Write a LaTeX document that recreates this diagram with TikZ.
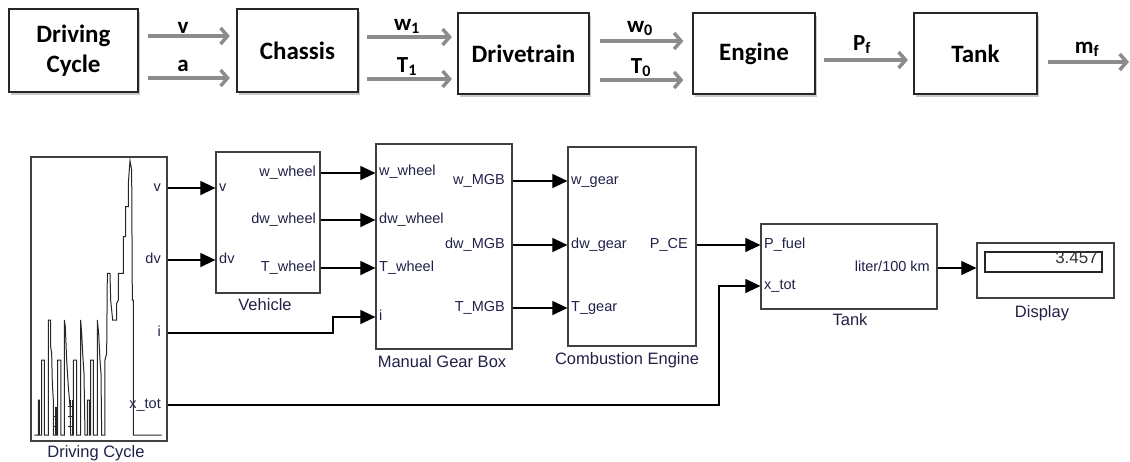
\documentclass[tikz,border=0pt]{standalone}
\usepackage{fontspec}
\setmainfont{Liberation Sans}
\newfontfamily\carl{Carlito}
\usetikzlibrary{arrows.meta,shadows}
\definecolor{slink}{HTML}{202048}
\begin{document}
\begin{tikzpicture}[x=1pt,y=-1pt,
  tbox/.style={draw=black!85, line width=1.2pt, fill=white,
    drop shadow={shadow xshift=1.5pt,shadow yshift=-2.5pt,opacity=0.35,fill=black!60},
    font=\carl\bfseries\fontsize{25}{30}\selectfont, align=center, inner sep=0pt},
  garrow/.style={draw=black!45, line width=3.5pt, -{Straight Barb[length=7pt,width=16pt]}},
  glab/.style={font=\carl\bfseries\fontsize{23}{24}\selectfont, inner sep=0pt, anchor=base},
  sbox/.style={draw=black!75, line width=1.2pt, inner sep=0pt},
  pl/.style={font=\fontsize{14.5}{16}\selectfont, text=slink, inner sep=0pt, text height=10.5pt, text depth=3pt},
  bname/.style={font=\fontsize{16.5}{18}\selectfont, text=slink, inner sep=0pt, anchor=north, text height=12pt, text depth=3.5pt},
  sarrow/.style={draw=black, line width=1.1pt, -{Triangle[length=15pt,width=14pt]}},
  trace/.style={draw=black!85, line width=1pt, line join=miter},
]
\useasboundingbox (0,0) rectangle (1130,461);

% ---------------- top row ----------------
\node[tbox, minimum width=129pt, minimum height=83pt] (tdc) at (73.5,50.5) {Driving\\Cycle};
\node[tbox, minimum width=121pt, minimum height=83pt] (tch) at (297.5,50.5) {Chassis};
\node[tbox, minimum width=131pt, minimum height=81pt] (tdt) at (523.5,53.5) {Drivetrain};
\node[tbox, minimum width=122pt, minimum height=81pt] (ten) at (754,53.5) {Engine};
\node[tbox, minimum width=123pt, minimum height=81pt] (ttk) at (975.5,53.5) {Tank};
\coordinate (mfend) at (1129,62);

\draw[garrow, shorten <=9pt, shorten >=6.5pt] (tdc.east |- 0,36) -- (tch.west |- 0,36);
\draw[garrow, shorten <=9pt, shorten >=6.5pt] (tdc.east |- 0,78) -- (tch.west |- 0,78);
\draw[garrow, shorten <=8.5pt, shorten >=5.5pt] (tch.east |- 0,37) -- (tdt.west |- 0,37);
\draw[garrow, shorten <=8.5pt, shorten >=5.5pt] (tch.east |- 0,79) -- (tdt.west |- 0,79);
\draw[garrow, shorten <=10pt, shorten >=9pt] (tdt.east |- 0,41) -- (ten.west |- 0,41);
\draw[garrow, shorten <=10pt, shorten >=9pt] (tdt.east |- 0,80) -- (ten.west |- 0,80);
\draw[garrow, shorten <=8.5pt, shorten >=5.5pt] (ten.east |- 0,60) -- (ttk.west |- 0,60);
\draw[garrow, shorten <=10.5pt] (ttk.east |- 0,62) -- (mfend);

\node[glab] (lv) at (183,33) {v};
\node[glab] (la) at (183,71) {a};
\node[glab] (lw1) at (407,30) {w\textsubscript{1}};
\node[glab] (lt1) at (407,72) {T\textsubscript{1}};
\node[glab] (lw0) at (640,32) {w\textsubscript{0}};
\node[glab] (lt0) at (641,73) {T\textsubscript{0}};
\node[glab] (lpf) at (862,50) {P\textsubscript{f}};
\node[glab] (lmf) at (1087,53) {m\textsubscript{f}};

% ---------------- bottom (Simulink) ----------------
\node[sbox, minimum width=136pt, minimum height=284pt] (dcb) at (99,299) {};
\node[sbox, minimum width=104pt, minimum height=141pt] (veh) at (268,222.5) {};
\node[sbox, minimum width=136pt, minimum height=205pt] (mgb) at (444,246.5) {};
\node[sbox, minimum width=128pt, minimum height=199pt] (ce) at (632,246.5) {};
\node[sbox, minimum width=176pt, minimum height=85pt] (tank) at (849,266.5) {};
\node[sbox, minimum width=137pt, minimum height=55pt] (disp) at (1045.5,270.5) {};
\node[sbox, draw=black!85, line width=1.1pt, minimum width=117pt, minimum height=20pt] (dispin) at (1043.5,262) {};
\node[pl, anchor=east, text=black!80, font=\fontsize{17}{18}\selectfont] (dval) at (1098,260) {3.457};

% driving cycle trace
\begin{scope}[shift={(0,140)}, scale=1/3]
\draw[trace] (103,885) -- (115,885) -- (115,780) -- (118,780) -- (118,885) -- (125,885)
  -- (125,660) -- (133,660) -- (133,885) -- (145,885) -- (145,540) -- (152,540)
  -- (152,620) -- (155,640) -- (157,730) -- (160,780) -- (160,885) -- (173,885)
  -- (173,660) -- (183,660) -- (183,885) -- (193,885) -- (193,540) -- (196,560)
  -- (200,660) -- (205,740) -- (210,800) -- (212,885) -- (220,885) -- (220,660)
  -- (230,660) -- (230,885) -- (242,885) -- (242,540) -- (245,580) -- (248,640)
  -- (252,700) -- (255,885) -- (262,885) -- (262,780) -- (268,780) -- (268,885)
  -- (272,885) -- (272,660) -- (280,660) -- (280,885) -- (292,885) -- (292,540)
  -- (296,580) -- (300,660) -- (303,700) -- (305,885) -- (315,885) -- (315,660)
  -- (320,640) -- (322,400) -- (330,400) -- (332,480) -- (338,540) -- (350,540)
  -- (350,490) -- (355,480) -- (355,400) -- (370,400) -- (370,290) -- (377,290)
  -- (377,200) -- (385,200) -- (385,130) -- (390,62) -- (395,90) -- (397,480)
  -- (400,480) -- (400,885) -- (485,885);
\draw[trace, line width=0.6pt] (160,830) -- (175,830) (160,860) -- (175,860)
  (205,800) -- (220,800) (205,830) -- (220,830) (205,860) -- (220,860)
  (165,800) -- (165,885) (170,800) -- (170,885) (212,780) -- (212,885) (216,780) -- (216,885);
\end{scope}

% port labels
\node[pl, anchor=east] (dcv) at (161,188) {v};
\node[pl, anchor=east] (dcdv) at (161,260) {dv};
\node[pl, anchor=east] (dci) at (161,333) {i};
\node[pl, anchor=east] (dcx) at (161,405) {x\_tot};

\node[pl, anchor=west] (vv) at (219,188) {v};
\node[pl, anchor=west] (vdv) at (219,260) {dv};
\node[pl, anchor=east] (vw) at (316,173) {w\_wheel};
\node[pl, anchor=east] (vdw) at (316,220) {dw\_wheel};
\node[pl, anchor=east] (vt) at (316,268) {T\_wheel};

\node[pl, anchor=west] (mw) at (379,172) {w\_wheel};
\node[pl, anchor=west] (mdw) at (379,220) {dw\_wheel};
\node[pl, anchor=west] (mt) at (379,268) {T\_wheel};
\node[pl, anchor=west] (mi) at (379,317) {i};
\node[pl, anchor=east] (mow) at (505,181) {w\_MGB};
\node[pl, anchor=east] (modw) at (505,245) {dw\_MGB};
\node[pl, anchor=east] (mot) at (505,308) {T\_MGB};

\node[pl, anchor=west] (cw) at (571,181) {w\_gear};
\node[pl, anchor=west] (cdw) at (571,245) {dw\_gear};
\node[pl, anchor=west] (ct) at (571,308) {T\_gear};
\node[pl, anchor=east] (cp) at (688,245) {P\_CE};

\node[pl, anchor=west] (tp) at (764,245) {P\_fuel};
\node[pl, anchor=west] (tx) at (764,286) {x\_tot};
\node[pl, anchor=east] (tl) at (930,268) {liter/100 km};

% block names
\node[bname] (ndc) at (96,445) {Driving Cycle};
\node[bname] (nveh) at (265,298) {Vehicle};
\node[bname] (nmgb) at (442,355) {Manual Gear Box};
\node[bname] (nce) at (627,352) {Combustion Engine};
\node[bname] (ntank) at (850,313) {Tank};
\node[bname] (ndisp) at (1042,305) {Display};

% connectors
\draw[sarrow] (dcv -| dcb.east) -- (dcv -| veh.west);
\draw[sarrow] (dcdv -| dcb.east) -- (dcdv -| veh.west);
\draw[sarrow] (vw -| veh.east) -- (vw -| mgb.west);
\draw[sarrow] (vdw -| veh.east) -- (vdw -| mgb.west);
\draw[sarrow] (vt -| veh.east) -- (vt -| mgb.west);
\draw[sarrow] (dci -| dcb.east) -- (333,333) |- (mi -| mgb.west);
\draw[sarrow] (mow -| mgb.east) -- (mow -| ce.west);
\draw[sarrow] (modw -| mgb.east) -- (modw -| ce.west);
\draw[sarrow] (mot -| mgb.east) -- (mot -| ce.west);
\draw[sarrow] (cp -| ce.east) -- (cp -| tank.west);
\draw[sarrow] (dcx -| dcb.east) -- (719,405) |- (tx -| tank.west);
\draw[sarrow] (tl -| tank.east) -- (tl -| disp.west);
\end{tikzpicture}
\end{document}
